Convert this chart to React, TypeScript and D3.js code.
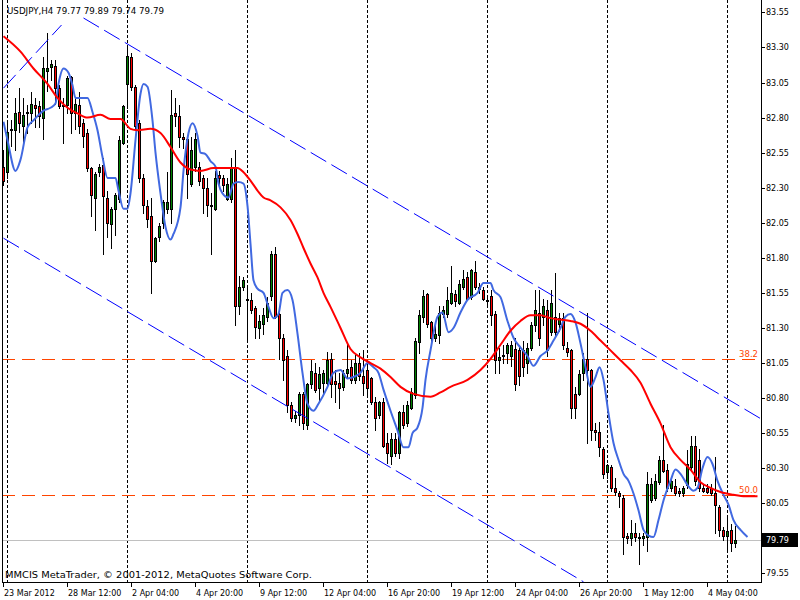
import React from "react";
import * as d3 from "d3";

// ---- data ----
const opens = [82.45,82.41,82.71,82.71,82.84,82.74,82.83,82.83,82.89,82.88,82.80,83.13,83.16,83.17,83.01,82.89,82.89,83.09,82.83,82.89,82.76,82.69,82.44,82.23,82.41,82.46,82.23,82.04,82.15,82.22,82.62,83.04,83.23,83.02,82.76,82.37,82.17,82.10,81.78,81.95,82.05,82.15,82.15,82.83,82.81,82.66,82.65,82.33,82.45,82.45,82.37,82.30,82.18,82.15,82.39,82.37,82.22,82.22,82.44,81.46,81.59,81.51,81.50,81.44,81.30,81.33,81.38,81.53,81.83,81.40,81.23,81.10,80.75,80.66,80.68,80.83,80.61,80.90,80.98,80.87,80.91,80.91,81.08,80.92,80.91,80.88,80.98,81.02,80.93,81.05,80.96,81.00,80.94,80.77,80.68,80.77,80.48,80.39,80.51,80.41,80.70,80.62,80.73,80.82,81.20,81.38,81.54,81.34,81.23,81.25,81.40,81.40,81.48,81.54,81.48,81.59,81.66,81.52,81.70,81.58,81.57,81.50,81.53,81.40,81.07,81.10,81.12,81.10,81.15,81.14,81.14,81.05,81.16,81.32,81.41,81.38,81.43,81.27,81.38,81.33,81.37,81.16,81.14,80.83,80.83,80.98,81.08,81.00,80.57,80.56,80.44,80.27,80.31,80.16,80.12,80.09,79.82,79.80,79.84,79.81,79.80,79.81,80.07,80.09,80.20,80.36,80.29,80.16,80.17,80.14,80.12,80.18,80.31,80.46,80.36,80.16,80.16,80.16,80.12,80.02,79.86,79.82,79.86,79.77];
const highs = [82.57,82.78,82.78,82.94,83.01,82.94,82.89,82.98,82.94,82.92,83.23,83.40,83.21,83.21,83.03,82.94,83.10,83.10,82.94,82.98,82.79,82.72,82.45,82.41,82.47,82.51,82.28,82.16,82.26,82.67,82.89,83.30,83.26,83.03,82.78,82.40,82.21,82.23,81.95,82.05,82.21,82.41,83.00,82.94,82.89,82.69,82.67,82.66,82.69,82.48,82.39,82.37,82.26,82.42,82.42,82.39,82.37,82.51,82.57,81.67,81.66,81.59,81.55,81.46,81.39,81.44,81.52,81.85,81.88,81.41,81.26,81.14,80.77,80.71,80.84,80.84,80.91,81.07,81.05,81.02,81.00,81.13,81.12,81.00,80.98,81.00,81.20,81.07,81.11,81.12,81.14,81.07,80.95,80.81,80.78,80.80,80.55,80.55,80.55,80.71,80.75,80.78,80.87,81.23,81.43,81.57,81.55,81.35,81.33,81.46,81.46,81.59,81.74,81.57,81.64,81.71,81.70,81.72,81.78,81.62,81.59,81.53,81.57,81.42,81.16,81.18,81.19,81.21,81.23,81.18,81.21,81.19,81.34,81.57,81.57,81.51,81.50,81.57,81.69,81.41,81.41,81.20,81.15,80.88,81.00,81.12,81.41,81.01,80.62,80.63,80.45,80.33,80.32,80.23,80.14,80.11,79.84,79.93,79.91,79.84,79.84,80.27,80.23,80.26,80.39,80.61,80.33,80.23,80.22,80.16,80.17,80.43,80.53,80.53,80.44,80.18,80.19,80.19,80.38,80.04,79.88,79.95,79.90,79.89];
const lows = [82.32,82.37,82.60,82.57,82.70,82.62,82.69,82.76,82.73,82.73,82.65,82.99,83.07,82.90,82.87,82.62,82.83,82.69,82.72,82.69,82.59,82.42,82.10,82.00,82.38,81.83,81.95,81.87,81.96,82.20,82.61,82.87,83.00,82.71,82.34,82.12,82.02,81.55,81.77,81.92,82.01,82.12,82.05,82.74,82.59,82.58,82.23,82.31,82.42,82.32,82.12,82.10,81.83,82.14,82.32,82.28,82.21,82.20,81.32,81.40,81.57,81.20,81.41,81.23,81.23,81.26,81.35,81.50,81.37,81.08,80.93,80.70,80.64,80.63,80.61,80.58,80.58,80.87,80.84,80.78,80.82,80.88,80.81,80.77,80.73,80.86,80.94,80.91,80.91,80.93,80.82,80.82,80.76,80.57,80.66,80.45,80.34,80.33,80.39,80.37,80.59,80.60,80.72,80.80,81.12,81.34,81.31,81.19,81.21,81.19,81.38,81.38,81.47,81.46,81.47,81.58,81.50,81.51,81.58,81.55,81.50,81.46,81.32,80.98,80.98,81.05,81.05,81.03,80.86,80.89,80.96,80.98,81.14,81.28,81.18,81.32,81.10,81.25,81.25,81.28,81.15,81.10,80.66,80.66,80.82,80.93,80.48,80.50,80.50,80.39,80.23,80.23,80.14,80.11,80.02,79.69,79.77,79.75,79.78,79.62,79.75,79.71,80.06,80.07,80.19,80.27,80.14,80.14,80.11,80.10,80.10,80.16,80.28,80.18,80.14,80.13,80.12,80.11,79.84,79.82,79.79,79.70,79.71,79.74];
const closes = [82.35,82.70,82.72,82.83,82.76,82.82,82.84,82.90,82.87,82.81,83.15,83.15,83.18,83.01,82.88,82.88,83.08,82.83,82.90,82.74,82.67,82.44,82.25,82.40,82.45,82.24,82.05,82.15,82.25,82.64,82.88,83.24,83.02,82.74,82.37,82.18,82.08,81.78,81.94,82.03,82.20,82.20,82.82,82.81,82.66,82.65,82.40,82.57,82.65,82.35,82.30,82.18,82.17,82.37,82.37,82.32,82.33,82.44,81.46,81.59,81.64,81.50,81.43,81.31,81.35,81.39,81.48,81.83,81.38,81.23,81.07,80.75,80.66,80.68,80.83,80.62,80.90,80.99,80.86,80.97,80.98,81.07,80.90,80.90,80.87,80.98,81.01,80.93,81.05,80.96,80.91,80.87,80.77,80.66,80.77,80.46,80.41,80.51,80.41,80.70,80.61,80.75,80.84,81.21,81.39,81.53,81.33,81.23,81.26,81.41,81.43,81.50,81.55,81.49,81.61,81.65,81.51,81.71,81.59,81.59,81.51,81.49,81.39,81.07,81.09,81.11,81.18,81.18,80.90,80.96,81.02,81.16,81.32,81.43,81.23,81.46,81.14,81.48,81.27,81.37,81.18,81.13,80.73,80.73,80.97,81.08,81.00,80.57,80.56,80.45,80.26,80.32,80.16,80.13,80.10,79.81,79.80,79.84,79.81,79.80,79.82,80.19,80.19,80.21,80.36,80.28,80.16,80.21,80.12,80.12,80.16,80.33,80.46,80.21,80.16,80.14,80.13,80.12,80.04,79.86,79.82,79.85,79.77,79.79];

// fast moving average (blue), sampled along its path: bar position and value
const fastBars = [0,1,3,4.25,6,7.5,10,11.75,13,13.75,15,16.25,17.25,18,19.75,21,22.25,23.5,24.75,26,28,28.75,30,31,31.75,33,34.25,35,36,37.25,38,39.25,40.5,41.75,42.5,44.25,45,46.25,47.25,48.5,49.25,50.5,51.75,53,53.75,54.75,56.25,57.5,58.75,60,61,61.75,62.5,63.5,65,66.25,67.5,68.75,69.75,71,72.25,73.5,74.75,76,77.5,78.75,81,82.5,84.25,86,87.5,89.25,91,92.5,93.75,95,96.75,98.5,100,101.25,102.25,103.5,104.75,105.5,106.75,108.5,109.75,111.25,112.5,114.25,116,118.5,120,121.75,122.5,124.25,126,127.5,129.25,131,132.5,134.25,136,137.5,139.25,140.5,141.75,143,144.25,145.5,146.75,148,149,150,151.25,152.5,153.75,155,156.25,157.5,158.75,160,161.25,162.5,163.75,165,166.75,168,169.25,171,172.5,173.5,174.75,176,177.25,178.5,180,181.25,182.5,184.25,186];
const fastVals = [82.77,82.64,82.42,82.50,82.73,82.78,82.85,82.87,82.90,83.04,83.15,83.12,83.03,82.94,82.94,82.94,82.84,82.71,82.52,82.37,82.37,82.28,82.15,82.15,82.26,82.64,82.97,83.04,83.02,82.78,82.55,82.26,82.02,81.93,81.97,82.16,82.42,82.69,82.76,82.67,82.55,82.54,82.49,82.45,82.33,82.26,82.23,82.33,82.34,82.33,82.17,81.90,81.64,81.58,81.55,81.45,81.37,81.40,81.55,81.57,81.50,81.26,80.98,80.76,80.71,80.76,80.88,80.98,81.00,80.94,80.95,80.98,81.05,81.02,80.98,80.86,80.71,80.57,80.45,80.45,80.55,80.59,80.73,80.93,81.14,81.38,81.41,81.27,81.30,81.41,81.50,81.55,81.62,81.62,81.57,81.52,81.35,81.23,81.16,81.10,81.03,81.10,81.14,81.21,81.30,81.38,81.40,81.34,81.19,81.02,80.88,80.95,81.02,80.93,80.69,80.48,80.36,80.26,80.21,80.12,80.00,79.86,79.82,79.81,79.93,80.07,80.21,80.29,80.26,80.18,80.14,80.16,80.30,80.38,80.33,80.21,80.11,80.04,79.93,79.86,79.81];

// slow moving average (red)
const slowBars = [0,4.25,7.5,11,13.5,16,18.5,21,24.25,26.75,29.25,31.75,33.5,36.75,39.25,41.75,44.25,46.75,49.25,52.5,58.5,60,61.75,63.5,65,66.75,69.25,71.75,73.5,75,76.75,78.5,80,81.75,84.25,86.75,89.25,91.75,94.25,96.75,99.25,102.5,106.75,109.25,111.75,116,119.25,121.75,124.25,126.75,129.25,131.75,134.25,136.75,139.25,141.75,144.25,146.75,149.25,151.75,154.25,156.75,159.25,161.75,164.25,166.75,169.25,171.75,174.25,176.75,179.25,182.5,185.5,188.5];
const slowVals = [83.38,83.27,83.15,83.04,82.94,82.87,82.83,82.80,82.82,82.79,82.79,82.72,82.71,82.72,82.69,82.59,82.48,82.43,82.42,82.44,82.44,82.41,82.35,82.28,82.23,82.21,82.16,82.07,81.97,81.87,81.76,81.66,81.55,81.45,81.30,81.15,81.09,81.05,81.01,80.95,80.88,80.83,80.81,80.84,80.88,80.93,81.00,81.08,81.18,81.28,81.35,81.39,81.39,81.37,81.36,81.35,81.33,81.28,81.21,81.14,81.07,81.00,80.91,80.76,80.62,80.45,80.36,80.29,80.20,80.16,80.13,80.11,80.10,80.10];

// drawn objects: channel lines (bar, price anchors)
const upperChannelBars = [20, 189.5];
const upperChannelVals = [83.51, 80.65];
const lowerChannelBars = [0, 145];
const lowerChannelVals = [81.94, 79.49];
const risingLineBars = [0, 14.5];
const risingLineVals = [83.01, 83.46];

const fibLevels = [81.08, 80.11];
const fibLabels = ["38.2", "50.0"];
const lastPrice = 79.79;

const yTicks = [83.55, 83.3, 83.05, 82.8, 82.55, 82.3, 82.05, 81.8, 81.55, 81.3, 81.05, 80.8, 80.55, 80.3, 80.05, 79.55];
const xTickBars = [0, 16, 32, 48, 64, 80, 96, 112, 128, 144, 160, 176];
const xTickLabels = ["23 Mar 2012", "28 Mar 12:00", "2 Apr 04:00", "4 Apr 20:00", "9 Apr 12:00", "12 Apr 04:00", "16 Apr 20:00", "19 Apr 12:00", "24 Apr 04:00", "26 Apr 20:00", "1 May 12:00", "4 May 04:00"];
const separatorBars = [1, 31, 61, 91, 121, 151, 181];

const title = "USDJPY,H4  79.77 79.89 79.74 79.79";
const copyright = "MMCIS MetaTrader, \u00A9 2001-2012, MetaQuotes Software Corp.";

const FONT = "'DejaVu Sans', Tahoma, sans-serif";

export default function App() {
  const left = 2;
  const right = 761;
  const bottom = 582;
  const x = d3.scaleLinear().domain([0, 183]).range([3, 735]); // pixel column of each bar
  const y = d3.scaleLinear().domain([79.55, 83.55]).range([573.4, 12.4]);

  const candles = opens.map((o, i) => ({ o, h: highs[i], l: lows[i], c: closes[i], i }));

  const maLine = d3
    .line<[number, number]>()
    .x((d) => x(d[0]) + 0.5)
    .y((d) => y(d[1]))
    .curve(d3.curveMonotoneX);

  const fastPts = fastBars.map((b, k) => [b, fastVals[k]] as [number, number]);
  const slowPts = slowBars.map((b, k) => [b, slowVals[k]] as [number, number]);

  const seg = (bars: number[], vals: number[]) => ({
    x1: x(bars[0]) + 0.5,
    y1: y(vals[0]),
    x2: x(bars[1]) + 0.5,
    y2: y(vals[1]),
  });
  const up = seg(upperChannelBars, upperChannelVals);
  const lo = seg(lowerChannelBars, lowerChannelVals);
  const ri = seg(risingLineBars, risingLineVals);

  const yLast = Math.round(y(lastPrice)) + 0.5;

  return (
    <svg
      width={800}
      height={600}
      style={{ position: "absolute", left: 0, top: 0, background: "#fff", display: "block" }}
      fontFamily={FONT}
    >
      <defs>
        <clipPath id="plot">
          <rect x={left} y={0} width={right - left} height={bottom} />
        </clipPath>
      </defs>
      <rect x={0} y={0} width={800} height={600} fill="#fff" />

      <g clipPath="url(#plot)">
        {/* weekly separators */}
        {separatorBars.map((b) => (
          <line
            key={"sep" + b}
            x1={x(b) + 0.5}
            x2={x(b) + 0.5}
            y1={0}
            y2={bottom}
            stroke="#000"
            strokeWidth={1}
            strokeDasharray="3,2"
          />
        ))}
        {/* fibonacci levels */}
        {fibLevels.map((v, k) => (
          <g key={"fib" + k}>
            <line
              x1={left}
              x2={right}
              y1={Math.round(y(v)) + 0.5}
              y2={Math.round(y(v)) + 0.5}
              stroke="#FF4500"
              strokeWidth={1}
              strokeDasharray="13,7"
            />
            <text x={758} y={Math.round(y(v)) - 2} fontSize={8.5} fill="#FF4500" textAnchor="end">
              {fibLabels[k]}
            </text>
          </g>
        ))}
        {/* last price line */}
        <line x1={left} x2={right} y1={yLast} y2={yLast} stroke="#C0C0C0" strokeWidth={1} />

        {/* candles */}
        {candles.map((d) => {
          const cx = x(d.i);
          const top = Math.round(y(Math.max(d.o, d.c)));
          const bot = Math.round(y(Math.min(d.o, d.c)));
          const hi = Math.round(y(d.h));
          const lw = Math.round(y(d.l));
          const bull = d.c >= d.o;
          const hgt = Math.max(bot - top, 1);
          return (
            <g key={"c" + d.i}>
              <line x1={cx + 0.5} x2={cx + 0.5} y1={hi} y2={lw + 1} stroke="#000" strokeWidth={1} />
              <rect x={cx - 1} y={top} width={3} height={hgt + 1} fill="#000" />
              {hgt > 1 && (
                <rect x={cx} y={top + 1} width={1} height={hgt - 1} fill={bull ? "#008000" : "#FF0000"} />
              )}
            </g>
          );
        })}

        {/* moving averages */}
        <path d={maLine(fastPts) || ""} fill="none" stroke="#4169E1" strokeWidth={2} />
        <path d={maLine(slowPts) || ""} fill="none" stroke="#FF0000" strokeWidth={2} />

        {/* channel and trend lines */}
        <line {...up} stroke="#0000FF" strokeWidth={1} strokeDasharray="18,6" />
        <line {...lo} stroke="#0000FF" strokeWidth={1} strokeDasharray="18,6" />
        <line {...ri} stroke="#0000FF" strokeWidth={1} strokeDasharray="18,6" />
      </g>

      {/* frame */}
      <line x1={left + 0.5} x2={left + 0.5} y1={0} y2={bottom + 0.5} stroke="#000" />
      <line x1={right + 0.5} x2={right + 0.5} y1={0} y2={bottom + 0.5} stroke="#000" />
      <line x1={left} x2={right + 1} y1={bottom + 0.5} y2={bottom + 0.5} stroke="#000" />

      {/* y axis */}
      {yTicks.map((v) => {
        const yy = Math.round(y(v)) + 0.5;
        return (
          <g key={"yt" + v}>
            <line x1={right + 1} x2={right + 4} y1={yy} y2={yy} stroke="#000" />
            <text x={766} y={yy} fontSize={8} dominantBaseline="central" fill="#000">
              {v.toFixed(2)}
            </text>
          </g>
        );
      })}
      <rect x={762} y={yLast - 7.5} width={36} height={14} fill="#000" />
      <text x={766} y={yLast} fontSize={8} dominantBaseline="central" fill="#fff">
        {lastPrice.toFixed(2)}
      </text>

      {/* x axis */}
      {xTickBars.map((b, k) => (
        <g key={"xt" + b}>
          <line x1={x(b) + 0.5} x2={x(b) + 0.5} y1={bottom + 1} y2={bottom + 5} stroke="#000" />
          <text x={x(b) + 1} y={596} fontSize={8} fill="#000">
            {xTickLabels[k]}
          </text>
        </g>
      ))}

      {/* texts */}
      <text x={7} y={14} fontSize={9} fill="#000" textLength={157} lengthAdjust="spacingAndGlyphs">
        {title}
      </text>
      <text x={5} y={578} fontSize={9} fill="#000" textLength={307} lengthAdjust="spacingAndGlyphs">
        {copyright}
      </text>
    </svg>
  );
}
